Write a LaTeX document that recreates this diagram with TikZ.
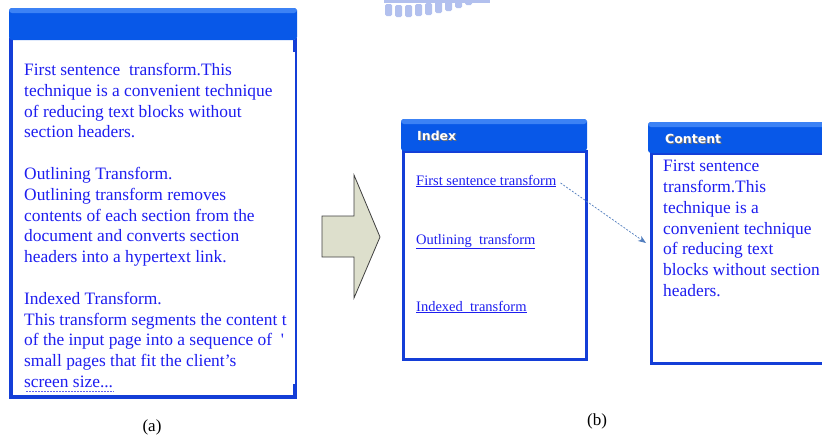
\documentclass[tikz,border=0pt]{standalone}
\usepackage{fontspec}
\setmainfont{Liberation Serif}
\newfontfamily\hdrfont{DejaVu Sans}
\usetikzlibrary{arrows.meta}
\definecolor{txtblue}{RGB}{30,30,240}
\definecolor{hdrblue}{RGB}{8,88,232}
\definecolor{hdrtop}{RGB}{60,130,245}
\definecolor{brdblue}{RGB}{20,62,215}
\definecolor{arrowfill}{RGB}{221,223,204}
\definecolor{linkarrow}{RGB}{80,125,190}
\definecolor{wm}{RGB}{178,192,238}
\tikzset{
  body/.style={text=txtblue, font=\fontsize{17.4}{20.8}\selectfont, align=left, anchor=north west, inner sep=0pt},
  linktxt/.style={text=txtblue, font=\fontsize{14.5}{16}\selectfont, anchor=base west, inner sep=0pt},
  hdrtxt/.style={text=white, font=\hdrfont\bfseries\fontsize{12.5}{14}\selectfont, anchor=west, inner sep=0pt},
  frame/.style={draw=brdblue, line width=3pt, fill=white},
  header/.style={fill=hdrblue, draw=none, rounded corners=3pt},
  captxt/.style={font=\fontsize{17}{19}\selectfont, inner sep=0pt}
}
\begin{document}
\begin{tikzpicture}[x=1pt,y=-1pt]
\useasboundingbox (0,0) rectangle (822,439);
\fill[white] (0,0) rectangle (822,439);
% faint watermark teeth
\foreach \xx/\yy in {385/16,395/17,405/17,415/16,425/15,435/13,445/11,455/8,465/5,475/2}
  \fill[wm, rounded corners=1.5pt] (\xx,\yy-12) rectangle (\xx+7,\yy);
\fill[wm] (384,0) rectangle (490,3);
% ---------- left panel (a) ----------
\node[draw=none, fill=white, minimum width=285pt, minimum height=360pt, anchor=north west, inner sep=0pt] (lbox) at (11,38) {};
\draw[brdblue, line width=4pt] (11,38) -- (11,397) -- (297,397);
\draw[brdblue, line width=1.2pt] (296,38) -- (296,397);
\fill[brdblue] (293,40) rectangle (297,52);
\fill[brdblue] (293,384) rectangle (297,397);
\fill[header] (9,8) rectangle (297,40);
\fill[hdrtop, rounded corners=3pt] (9,8) rectangle (297,13);
\node[body] (ltext) at (24,63) {First sentence\ \ transform.This\\
technique is a convenient technique\\
of reducing text blocks without\\
section headers.\\[20.8pt]
Outlining Transform.\\
Outlining transform removes\\
contents of each section from the\\
document and converts section\\
headers into a hypertext link.\\[20.8pt]
Indexed Transform.\\
This transform segments the content t\\
of the input page into a sequence of\ \ \textquotesingle\\
small pages that fit the client’s\\
screen size...};
\draw[txtblue!70, line width=0.8pt, dash pattern=on 1.5pt off 1.5pt] ([shift={(2,3)}]ltext.south west) -- ++(88,0);
\node[captxt] (capa) at (152,427) {(a)};
% ---------- block arrow ----------
\draw[fill=arrowfill, draw=black!75, line width=0.8pt, line join=miter]
  (322,216) -- (354,216) -- (354,175) -- (380,237) -- (354,298) -- (354,257) -- (322,257) -- cycle;
% ---------- index panel ----------
\node[frame, minimum width=183pt, minimum height=208pt, anchor=north west, inner sep=0pt] (ibox) at (402,150) {};
\fill[header] (401,119) rectangle (587,151);
\fill[hdrtop, rounded corners=3pt] (401,119) rectangle (587,124);
\node[hdrtxt, text=black!55] (ishadow) at (418,137) {Index};
\node[hdrtxt] (ihdr) at (417,136) {Index};
\node[linktxt] (l1) at (416,185) {\underline{First sentence transform}};
\node[linktxt] (l2) at (416,244) {\underline{Outlining\ \ transform}};
\node[linktxt] (l3) at (416,311) {\underline{Indexed\ \ transform}};
% ---------- content panel ----------
\node[frame, minimum width=180pt, minimum height=210pt, anchor=north west, inner sep=0pt] (cbox) at (650,152) {};
\fill[header] (648,122) rectangle (830,153);
\fill[hdrtop, rounded corners=3pt] (648,122) rectangle (830,127);
\node[hdrtxt, text=black!55] (cshadow) at (666,140) {Content};
\node[hdrtxt] (chdr) at (665,139) {Content};
\node[body] (ctext) at (663,160) {First sentence\\
transform.This\\
technique is a\\
convenient technique\\
of reducing text\\
blocks without section\\
headers.};
\node[captxt] (capb) at (597,421) {(b)};
% ---------- link arrow ----------
\coordinate (ctarget) at (646,243);
\draw[linkarrow, line width=0.7pt, dash pattern=on 2pt off 1.5pt, -{Stealth[length=8pt,width=6pt]}]
  ([xshift=4pt,yshift=-2pt]l1.east) -- (ctarget);
\end{tikzpicture}
\end{document}
